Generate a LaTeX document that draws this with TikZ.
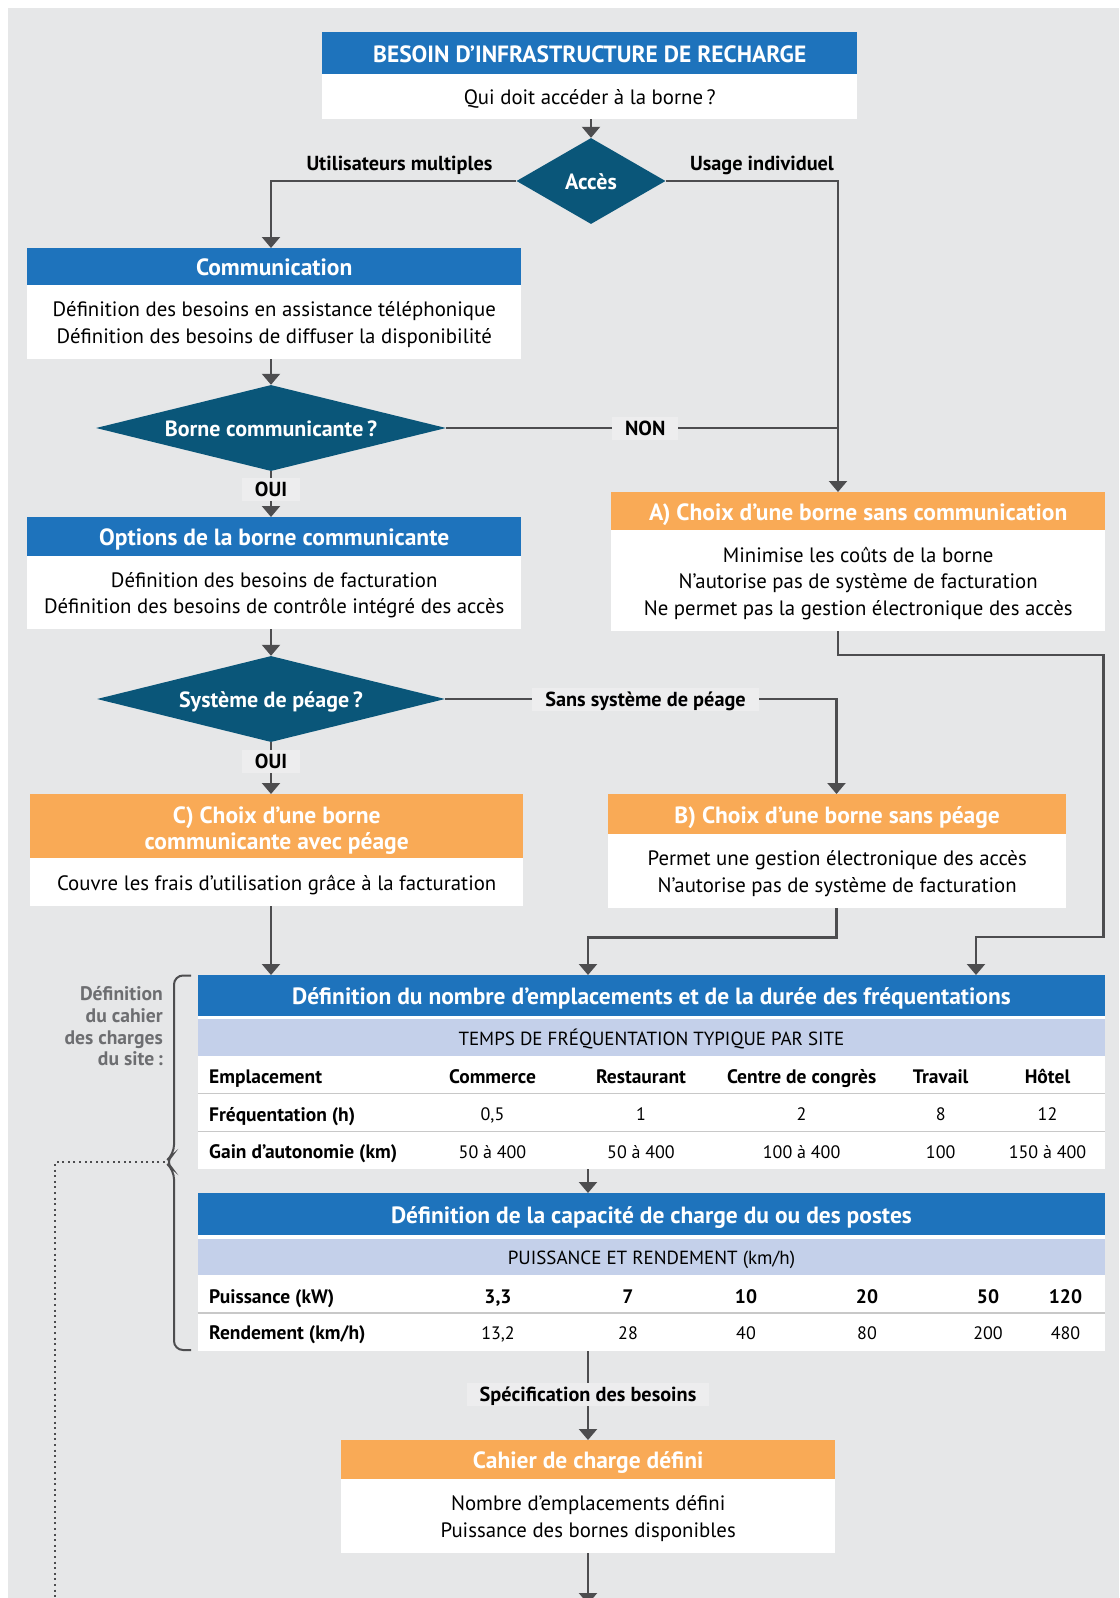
\documentclass[tikz,border=0pt]{standalone}
\usepackage{fontspec}
\setmainfont{PT Sans}
\usetikzlibrary{shapes.geometric,arrows.meta}
\definecolor{cbg}{RGB}{230,231,232}
\definecolor{cblue}{RGB}{30,115,188}
\definecolor{corange}{RGB}{249,170,86}
\definecolor{cdia}{RGB}{10,86,121}
\definecolor{csub}{RGB}{196,208,234}
\definecolor{cline}{RGB}{77,77,79}
\definecolor{clabel}{RGB}{237,237,238}
\definecolor{csep}{RGB}{200,200,200}
\definecolor{cside}{RGB}{109,110,113}
\newcommand\fhdr{\fontsize{23.5pt}{26pt}\selectfont\bfseries}
\newcommand\fbody{\fontsize{20.8pt}{26.5pt}\selectfont}
\newcommand\flbl{\fontsize{20.3pt}{24pt}\selectfont\bfseries}
\newcommand\fsub{\fontsize{19pt}{22pt}\selectfont}
\newcommand\ftab{\fontsize{18pt}{22pt}\selectfont}
\newcommand\ftabb{\fontsize{19.5pt}{22pt}\selectfont\bfseries}
\newcommand\fdia{\fontsize{22pt}{26pt}\selectfont\bfseries}
\newcommand\fside{\fontsize{19.6pt}{21.7pt}\selectfont\bfseries}
\newcommand\mytop{\rule{0pt}{1.02em}}
\newcommand\mytopc{\rule{0pt}{1.14em}}
\newcommand\mybot{\rule[-0.25em]{0pt}{0.25em}}
\begin{document}
\begin{tikzpicture}[x=1pt,y=-1pt,
  hdr/.style={fill=cblue, text=white, font=\fhdr, inner sep=0pt, anchor=north west, align=center},
  ohdr/.style={hdr, fill=corange},
  bodybox/.style={fill=white, text=black, font=\fbody, inner sep=0pt, anchor=north west, align=center},
  subhdr/.style={fill=csub, text=black, font=\fsub, inner sep=0pt, anchor=north west},
  tbg/.style={fill=white, inner sep=0pt, anchor=north west},
  dia/.style={diamond, fill=cdia, text=white, font=\fdia, inner sep=0pt},
  conn/.style={draw=cline, line width=2.2pt},
  arr/.style={conn, -{Triangle[width=18pt,length=11pt]}},
  lbl/.style={fill=clabel, text=black, font=\flbl, inner xsep=13pt, inner ysep=0pt, minimum height=23pt, text height=14pt, text depth=0pt},
  toplbl/.style={text=black, font=\flbl, inner sep=0pt, text height=14pt, text depth=0pt},
  tc/.style={font=\ftab, inner sep=0pt, text height=12.6pt, text depth=0pt},
  tcb/.style={tc, font=\ftabb, text height=13.6pt},
  tl/.style={tcb, anchor=west},
  sep/.style={draw=csep, line width=1.8pt},
  brace/.style={draw=cline, line width=2pt, rounded corners=9pt},
  dotline/.style={draw=cline, line width=2pt, dash pattern=on 2pt off 3.6pt}
]
\useasboundingbox (0,0) rectangle (1119,1598);
\begin{scope}
\clip (0,0) rectangle (1119,1598);
\fill[cbg] (8,8) rectangle (1119,1598);

% column coordinates
\coordinate (colL) at (271,0);
\coordinate (colR) at (838,0);
\coordinate (colB) at (836.5,0);
\coordinate (colM) at (588,0);
\coordinate (colA) at (976,0);
\coordinate (eR) at (1103.5,655);
\coordinate (eR2) at (1103.5,937);
\coordinate (bJ) at (836.5,937.5);
\coordinate (bottomEnd) at (588,1604);

% top box
\node[hdr, minimum width=535pt, minimum height=42pt] (Th) at (322,32) {\mytop BESOIN D’INFRASTRUCTURE DE RECHARGE\mybot};
\node[bodybox, minimum width=535pt, minimum height=45pt] (Tb) at (322,74) {\mytop Qui doit accéder à la borne\,?\mybot};

% acces diamond
\node[dia, minimum width=149pt, minimum height=86pt, aspect=1.7] (acc) at (591,181) {\mytop Accès\mybot};
\node[toplbl] (um) at (399.5,163) {Utilisateurs multiples};
\node[toplbl] (ui) at (762,163) {Usage individuel};

% communication
\node[hdr, minimum width=494pt, minimum height=37pt] (cH) at (27,248) {\mytop Communication\mybot};
\node[bodybox, minimum width=494pt, minimum height=74pt] (cB) at (27,285) {\mytop Définition des besoins en assistance téléphonique\\Définition des besoins de diffuser la disponibilité\mybot};

% borne communicante diamond
\node[dia, minimum width=350pt, minimum height=86pt, aspect=4] (borne) at (271,428) {\mytop Borne communicante\,?\mybot};

% options
\node[hdr, minimum width=494pt, minimum height=39pt] (oH) at (27,517) {\mytop Options de la borne communicante\mybot};
\node[bodybox, minimum width=494pt, minimum height=73pt] (oB) at (27,556) {\mytop Définition des besoins de facturation\\Définition des besoins de contrôle intégré des accès\mybot};

% A
\node[ohdr, minimum width=494pt, minimum height=38pt] (aH) at (611,492) {\mytop A) Choix d’une borne sans communication\mybot};
\node[bodybox, minimum width=494pt, minimum height=101pt] (aB) at (611,530) {\mytop Minimise les coûts de la borne\\N’autorise pas de système de facturation\\Ne permet pas la gestion électronique des accès\mybot};

% systeme de peage diamond
\node[dia, minimum width=348pt, minimum height=86pt, aspect=4] (sys) at (271,699) {\mytop Système de péage\,?\mybot};

% C
\node[ohdr, minimum width=493pt, minimum height=64pt] (pcH) at (30,794) {\mytopc C) Choix d’une borne\\communicante avec péage\mybot};
\node[bodybox, minimum width=493pt, minimum height=48pt] (pcB) at (30,858) {\mytop Couvre les frais d’utilisation grâce à la facturation\mybot};

% B
\node[ohdr, minimum width=458pt, minimum height=40pt] (pbH) at (608,794) {\mytop B) Choix d’une borne sans péage\mybot};
\node[bodybox, minimum width=458pt, minimum height=74pt] (pbB) at (608,834) {\mytop Permet une gestion électronique des accès\\N’autorise pas de système de facturation\mybot};

% D table
\node[tbg, minimum width=907.5pt, minimum height=194pt] (dBg) at (197.5,975) {};
\node[hdr, minimum width=907.5pt, minimum height=41pt] (dH) at (197.5,975) {\mytop Définition du nombre d’emplacements et de la durée des fréquentations\mybot};
\node[subhdr, minimum width=907.5pt, minimum height=37pt] (dS) at (197.5,1019) {\mytop TEMPS DE FRÉQUENTATION TYPIQUE PAR SITE\mybot};
\draw[sep] (dBg.west |- 0,1093.5) -- (dBg.east |- 0,1093.5);
\draw[sep] (dBg.west |- 0,1131.5) -- (dBg.east |- 0,1131.5);
\node[tl] (d-r1) at (209,1076.5) {Emplacement};
\node[tl] (d-r2) at (209,1114.5) {Fréquentation (h)};
\node[tl] (d-r3) at (209,1151.7) {Gain d’autonomie (km)};
\foreach \x/\t [count=\i] in {492.5/Commerce, 641/Restaurant, 801.6/Centre de congrès, 940.7/Travail, 1047.5/Hôtel}
  \node[tcb] (d-h\i) at (\x,1076.5) {\t};
\foreach \x/\t [count=\i] in {492.5/{0,5}, 641/1, 801.6/2, 940.7/8, 1047.5/12}
  \node[tc] (d-f\i) at (\x,1114.5) {\t};
\foreach \x/\t [count=\i] in {492.5/50 à 400, 641/50 à 400, 801.6/100 à 400, 940.7/100, 1047.5/150 à 400}
  \node[tc] (d-g\i) at (\x,1151.7) {\t};

% E table
\node[tbg, minimum width=907.5pt, minimum height=158pt] (eBg) at (197.5,1193) {};
\node[hdr, minimum width=907.5pt, minimum height=42pt] (eH) at (197.5,1193) {\mytop Définition de la capacité de charge du ou des postes\mybot};
\node[subhdr, minimum width=907.5pt, minimum height=36pt] (eS) at (197.5,1239) {\mytop PUISSANCE ET RENDEMENT (km/h)\mybot};
\draw[sep] (eBg.west |- 0,1313) -- (eBg.east |- 0,1313);
\node[tl] (e-r1) at (209,1296.5) {Puissance (kW)};
\node[tl] (e-r2) at (209,1333) {Rendement (km/h)};
\foreach \x/\t [count=\i] in {498/{3,3}, 628/7, 746/10, 867/20, 988/50, 1065.5/120}
  \node[tcb] (e-p\i) at (\x,1296.5) {\t};
\foreach \x/\t [count=\i] in {498/{13,2}, 628/28, 746/40, 867/80, 988/200, 1065.5/480}
  \node[tc] (e-q\i) at (\x,1333) {\t};

% F
\node[ohdr, minimum width=494pt, minimum height=39pt] (fH) at (341,1440) {\mytop Cahier de charge défini\mybot};
\node[bodybox, minimum width=494pt, minimum height=74pt] (fB) at (341,1479) {\mytop Nombre d’emplacements défini\\Puissance des bornes disponibles\mybot};

% side text and brace
\node[font=\fside, text=cside, align=right, inner sep=0pt, anchor=east] (side) at (163,1026.5) {Définition\\du cahier\\des charges\\du site\,:};
\coordinate (brTip) at (165,1162);
\draw[brace] (191,975.5) -- (174,975.5) -- (174,1154) -- (brTip) -- (174,1170) -- (174,1350) -- (191,1350);
\draw[dotline] (brTip) -- (55,1162) -- (55,1600);

% connectors
\draw[arr] (Tb.south -| acc.north) -- (acc.north);
\draw[arr] (acc.west) -| (cH.north -| colL);
\draw[arr] (acc.east) -| (aH.north -| colR);
\draw[arr] (cB.south -| colL) -- (borne.north);
\draw[conn] (borne.east) -- node[lbl, pos=0.508] (non) {NON} (borne.east -| colR);
\draw[arr] (borne.south) -- node[lbl, pos=0.39] (oui1) {OUI} (oH.north -| colL);
\draw[arr] (oB.south -| colL) -- (sys.north);
\draw[arr] (sys.east) -- node[lbl, pos=0.512] (ssp) {Sans système de péage} (sys.east -| colB) -- (pbH.north -| colB);
\draw[arr] (sys.south) -- node[lbl, pos=0.375] (oui2) {OUI} (pcH.north -| colL);
\draw[arr] (pcB.south -| colL) -- (dBg.north -| colL);
\draw[arr] (pbB.south -| colB) |- (colM |- bJ) -- (dBg.north -| colM);
\draw[arr] (aB.south -| colR) |- (eR) |- (colA |- eR2) -- (dBg.north -| colA);
\draw[arr] (dBg.south -| colM) -- (eBg.north -| colM);
\draw[arr] (eBg.south -| colM) -- node[lbl, pos=0.483] (spec) {Spécification des besoins} (fH.north -| colM);
\draw[arr] (fB.south -| colM) -- (bottomEnd);
\end{scope}
\end{tikzpicture}
\end{document}
